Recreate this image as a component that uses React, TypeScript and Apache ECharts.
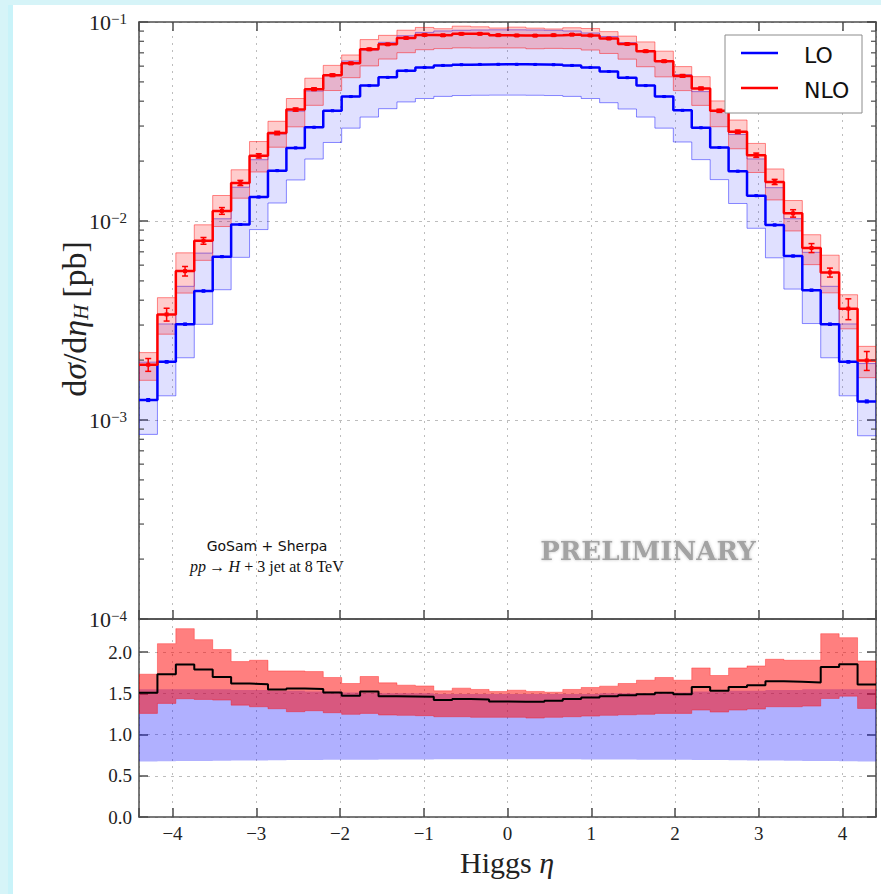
import React, { useEffect, useRef } from 'react';
import * as echarts from 'echarts';

// ---------- data ----------
const binEdges = [-4.4, -4.18, -3.96, -3.74, -3.52, -3.3, -3.08, -2.86, -2.64, -2.42, -2.2, -1.98, -1.76, -1.54, -1.32, -1.1, -0.88, -0.66, -0.44, -0.22, 0, 0.22, 0.44, 0.66, 0.88, 1.1, 1.32, 1.54, 1.76, 1.98, 2.2, 2.42, 2.64, 2.86, 3.08, 3.3, 3.52, 3.74, 3.96, 4.18, 4.4];

// LO central cross section per bin [pb]
const loCentral = [1.26e-3, 1.96e-3, 3.03e-3, 4.45e-3, 6.62e-3, 9.6e-3, 1.32e-2, 1.79e-2, 2.33e-2, 2.96e-2, 3.58e-2, 4.22e-2, 4.79e-2, 5.27e-2, 5.69e-2, 5.91e-2, 6.05e-2, 6.1e-2, 6.12e-2, 6.13e-2, 6.13e-2, 6.12e-2, 6.1e-2, 6.05e-2, 5.91e-2, 5.64e-2, 5.25e-2, 4.79e-2, 4.22e-2, 3.6e-2, 2.94e-2, 2.34e-2, 1.78e-2, 1.34e-2, 9.55e-3, 6.67e-3, 4.49e-3, 3.03e-3, 1.96e-3, 1.24e-3];
// statistical errors in percent
const loErrPct = [1.5, 1.2, 1, 1, 0.8, 0.8, 0.6, 0.6, 0.5, 0.5, 0.5, 0.5, 0.4, 0.4, 0.4, 0.4, 0.4, 0.4, 0.4, 0.4, 0.4, 0.4, 0.4, 0.4, 0.4, 0.4, 0.4, 0.4, 0.5, 0.5, 0.5, 0.5, 0.6, 0.6, 0.8, 0.8, 1, 1, 1.2, 1.5];
const nloErrPct = [7.4, 7.4, 5.5, 3.9, 3.9, 3, 2.5, 2, 1.8, 1.5, 1.5, 1.2, 1.2, 1, 1, 1, 1, 1, 1, 1, 1, 1, 1, 1, 1, 1, 1, 1.2, 1.2, 1.5, 1.5, 1.8, 2, 2.5, 3, 4.3, 5.2, 5.2, 12, 10.9];

// ratio panel (relative to LO central)
const ratioNLO = [1.505, 1.731, 1.848, 1.787, 1.698, 1.618, 1.61, 1.546, 1.558, 1.553, 1.51, 1.469, 1.522, 1.465, 1.461, 1.457, 1.417, 1.429, 1.425, 1.401, 1.396, 1.396, 1.408, 1.429, 1.449, 1.465, 1.477, 1.489, 1.505, 1.489, 1.577, 1.529, 1.577, 1.598, 1.646, 1.638, 1.63, 1.819, 1.851, 1.606];
const ratioNLOUp = [1.731, 2.101, 2.283, 2.15, 2.029, 1.884, 1.9, 1.771, 1.771, 1.763, 1.691, 1.618, 1.703, 1.626, 1.598, 1.589, 1.529, 1.562, 1.546, 1.522, 1.537, 1.522, 1.513, 1.546, 1.57, 1.586, 1.618, 1.658, 1.691, 1.658, 1.807, 1.715, 1.807, 1.831, 1.912, 1.9, 1.9, 2.222, 2.174, 1.891];
const ratioNLODown = [1.256, 1.377, 1.433, 1.425, 1.417, 1.356, 1.336, 1.312, 1.276, 1.288, 1.264, 1.244, 1.256, 1.236, 1.232, 1.228, 1.215, 1.215, 1.208, 1.208, 1.208, 1.199, 1.208, 1.215, 1.223, 1.232, 1.239, 1.244, 1.256, 1.256, 1.296, 1.272, 1.296, 1.308, 1.336, 1.336, 1.344, 1.437, 1.465, 1.316];
const ratioLOUp = [1.55, 1.55, 1.55, 1.55, 1.55, 1.54, 1.54, 1.53, 1.53, 1.52, 1.52, 1.51, 1.51, 1.5, 1.5, 1.5, 1.49, 1.49, 1.49, 1.49, 1.49, 1.49, 1.49, 1.49, 1.49, 1.5, 1.5, 1.5, 1.51, 1.51, 1.52, 1.52, 1.53, 1.53, 1.54, 1.54, 1.55, 1.55, 1.55, 1.55];
const ratioLODown = [0.672, 0.675, 0.678, 0.68, 0.682, 0.684, 0.686, 0.688, 0.69, 0.692, 0.693, 0.694, 0.695, 0.696, 0.697, 0.698, 0.699, 0.7, 0.7, 0.7, 0.7, 0.7, 0.7, 0.699, 0.698, 0.697, 0.696, 0.695, 0.694, 0.693, 0.692, 0.69, 0.688, 0.686, 0.684, 0.682, 0.68, 0.678, 0.675, 0.672];

const minorTickValues = [2e-4, 3e-4, 4e-4, 5e-4, 6e-4, 7e-4, 8e-4, 9e-4, 2e-3, 3e-3, 4e-3, 5e-3, 6e-3, 7e-3, 8e-3, 9e-3, 2e-2, 3e-2, 4e-2, 5e-2, 6e-2, 7e-2, 8e-2, 9e-2];

const SERIF = "'Liberation Serif', 'DejaVu Serif', serif";
const SANS = "'DejaVu Sans', sans-serif";
const FRAME = '#4d4d4d';

function stepData(vals: number[]) {
  const d: number[][] = vals.map((v, i) => [binEdges[i], v]);
  d.push([binEdges[binEdges.length - 1], vals[vals.length - 1]]);
  return d;
}

function bandSeries(lower: number[], upper: number[], xi: number, yi: number, fill: string, stroke: string, anchorY: number) {
  return {
    type: 'custom',
    xAxisIndex: xi,
    yAxisIndex: yi,
    silent: true,
    clip: true,
    data: [[0, anchorY]],
    renderItem: (_p: any, api: any) => {
      const pts: number[][] = [];
      for (let i = 0; i < upper.length; i++) {
        pts.push(api.coord([binEdges[i], upper[i]]));
        pts.push(api.coord([binEdges[i + 1], upper[i]]));
      }
      for (let i = lower.length - 1; i >= 0; i--) {
        pts.push(api.coord([binEdges[i + 1], lower[i]]));
        pts.push(api.coord([binEdges[i], lower[i]]));
      }
      return { type: 'polygon', shape: { points: pts }, style: { fill, stroke, lineWidth: 1 } };
    },
  };
}

function errSeries(vals: number[], errPct: number[], color: string, cap: number, mark: number) {
  const data = vals.map((v, i) => [
    (binEdges[i] + binEdges[i + 1]) / 2,
    v,
    v * (1 - errPct[i] / 100),
    v * (1 + errPct[i] / 100),
  ]);
  return {
    type: 'custom',
    xAxisIndex: 0,
    yAxisIndex: 0,
    silent: true,
    z: 5,
    encode: { x: 0, y: 1 },
    data,
    renderItem: (_p: any, api: any) => {
      const x = api.value(0);
      const c = api.coord([x, api.value(1)]);
      const lo = api.coord([x, api.value(2)]);
      const hi = api.coord([x, api.value(3)]);
      return {
        type: 'group',
        children: [
          { type: 'line', shape: { x1: c[0], y1: lo[1], x2: c[0], y2: hi[1] }, style: { stroke: color, lineWidth: 1.5 } },
          { type: 'line', shape: { x1: c[0] - cap, y1: lo[1], x2: c[0] + cap, y2: lo[1] }, style: { stroke: color, lineWidth: 1.5 } },
          { type: 'line', shape: { x1: c[0] - cap, y1: hi[1], x2: c[0] + cap, y2: hi[1] }, style: { stroke: color, lineWidth: 1.5 } },
          { type: 'rect', shape: { x: c[0] - mark / 2, y: c[1] - mark / 2, width: mark, height: mark }, style: { fill: color } },
        ],
      };
    },
  };
}

const fmtInt = (v: number) => {
  if (Math.abs(v - Math.round(v)) > 1e-6) return '';
  const r = Math.round(v);
  return r < 0 ? '\u2212' + Math.abs(r) : String(r);
};

export default function App() {
  const ref = useRef<HTMLDivElement>(null);
  useEffect(() => {
    if (!ref.current) return;
    const chart = echarts.init(ref.current, null, { renderer: 'svg' });

    const nloCentral = loCentral.map((v, i) => v * ratioNLO[i]);
    const nloUp = loCentral.map((v, i) => v * ratioNLOUp[i]);
    const nloDown = loCentral.map((v, i) => v * ratioNLODown[i]);
    const loUp = loCentral.map((v, i) => v * ratioLOUp[i]);
    const loDown = loCentral.map((v, i) => v * ratioLODown[i]);

    const axisLine = { show: true, onZero: false, lineStyle: { color: FRAME, width: 1.5 } };
    const tick = { show: true, inside: true, length: 9, lineStyle: { color: FRAME, width: 1.5 } };
    const dotted = { show: true, lineStyle: { color: '#bdbdbd', width: 1, type: [2, 5] } };
    const dashed = { show: true, lineStyle: { color: '#bdbdbd', width: 1, type: [3, 5] } };

    const xBase = { type: 'value', min: -4.4, max: 4.4, splitNumber: 8, minInterval: 1, maxInterval: 1 };

    const option: any = {
      animation: false,
      backgroundColor: '#ffffff',
      grid: [
        { left: 139, top: 22, width: 737, height: 597 },
        { left: 139, top: 619, width: 737, height: 198 },
      ],
      xAxis: [
        { ...xBase, gridIndex: 0, position: 'bottom', axisLine, axisTick: tick, axisLabel: { show: false }, splitLine: dotted },
        { ...xBase, gridIndex: 0, position: 'top', axisLine, axisTick: tick, axisLabel: { show: false }, splitLine: { show: false } },
        {
          ...xBase, gridIndex: 1, position: 'bottom', axisLine, axisTick: tick, splitLine: dotted,
          axisLabel: { show: true, formatter: fmtInt, margin: 7, fontFamily: SERIF, fontSize: 19, color: '#222' },
        },
        { ...xBase, gridIndex: 1, position: 'top', axisLine, axisTick: { show: false }, axisLabel: { show: false }, splitLine: { show: false } },
      ],
      yAxis: [
        {
          type: 'log', logBase: 10, min: 1e-4, max: 1e-1, gridIndex: 0, position: 'left',
          axisLine, axisTick: tick, splitLine: dashed,
          axisLabel: {
            show: true, margin: 12,
            formatter: (v: number) => {
              const e = Math.round(Math.log10(v));
              return '{b|10}{s|' + (e < 0 ? '\u2212' + Math.abs(e) : String(e)) + '}';
            },
            rich: {
              b: { fontFamily: SERIF, fontSize: 22, lineHeight: 22, color: '#222', padding: [5, 0, 5, 0], verticalAlign: 'middle' },
              s: { fontFamily: SERIF, fontSize: 15, lineHeight: 15, color: '#222', verticalAlign: 'top' },
            },
          },
        },
        {
          type: 'log', logBase: 10, min: 1e-4, max: 1e-1, gridIndex: 0, position: 'right',
          axisLine, axisTick: tick, axisLabel: { show: false }, splitLine: { show: false },
        },
        {
          type: 'value', min: 0, max: 2.4, interval: 0.5, gridIndex: 1, position: 'left',
          axisLine, axisTick: tick, splitLine: dashed,
          axisLabel: {
            show: true, margin: 7, fontFamily: SERIF, fontSize: 19, color: '#222',
            formatter: (v: number) => (v > 2.2 ? '' : v.toFixed(1)),
          },
        },
        {
          type: 'value', min: 0, max: 2.4, interval: 0.5, gridIndex: 1, position: 'right',
          axisLine, axisTick: tick, axisLabel: { show: false }, splitLine: { show: false },
        },
      ],
      series: [
        bandSeries(loDown, loUp, 0, 0, 'rgba(0,0,255,0.12)', 'rgba(0,0,255,0.45)', 0.01),
        bandSeries(nloDown, nloUp, 0, 0, 'rgba(255,0,0,0.2)', 'rgba(255,0,0,0.45)', 0.01),
        {
          name: 'LO', type: 'line', step: 'end', xAxisIndex: 0, yAxisIndex: 0, showSymbol: false, silent: true,
          data: stepData(loCentral), lineStyle: { color: '#0000ff', width: 2.5 }, itemStyle: { color: '#0000ff' }, z: 4,
        },
        {
          name: 'NLO', type: 'line', step: 'end', xAxisIndex: 0, yAxisIndex: 0, showSymbol: false, silent: true,
          data: stepData(nloCentral), lineStyle: { color: '#ff0000', width: 2.5 }, itemStyle: { color: '#ff0000' }, z: 4,
        },
        errSeries(loCentral, loErrPct, '#0000ff', 2, 3),
        errSeries(nloCentral, nloErrPct, '#ff0000', 3, 4),
        {
          type: 'custom', xAxisIndex: 0, yAxisIndex: 0, silent: true, z: 6,
          data: minorTickValues.map((v) => [-4.4, v]),
          renderItem: (_p: any, api: any) => {
            const v = api.value(1);
            const l = api.coord([-4.4, v]);
            const r = api.coord([4.4, v]);
            return {
              type: 'group',
              children: [
                { type: 'line', shape: { x1: l[0], y1: l[1], x2: l[0] + 5, y2: l[1] }, style: { stroke: FRAME, lineWidth: 1.2 } },
                { type: 'line', shape: { x1: r[0] - 5, y1: r[1], x2: r[0], y2: r[1] }, style: { stroke: FRAME, lineWidth: 1.2 } },
              ],
            };
          },
        },
        bandSeries(ratioLODown, ratioLOUp, 2, 2, 'rgba(0,0,255,0.31)', 'rgba(0,0,255,0.0)', 1),
        bandSeries(ratioNLODown, ratioNLOUp, 2, 2, 'rgba(255,0,0,0.5)', 'rgba(255,0,0,0.35)', 1),
        {
          name: 'NLO/LO', type: 'line', step: 'end', xAxisIndex: 2, yAxisIndex: 2, showSymbol: false, silent: true,
          data: stepData(ratioNLO), lineStyle: { color: '#000000', width: 2 }, z: 4,
        },
      ],
      graphic: [
        { type: 'rect', z: -10, silent: true, shape: { x: 0, y: 0, width: 881, height: 5 }, style: { fill: '#d6f4f8' } },
        { type: 'rect', z: -10, silent: true, shape: { x: 0, y: 0, width: 13, height: 894 }, style: { fill: '#d6f4f8' } },
        { type: 'rect', z: -9, silent: true, shape: { x: 8, y: 5, width: 5, height: 889 }, style: { fill: '#c9f3f9' } },
        // legend
        { type: 'rect', z: 100, silent: true, shape: { x: 725, y: 35, width: 137, height: 78 }, style: { fill: '#ffffff', stroke: '#8c8c8c', lineWidth: 1 } },
        { type: 'line', z: 101, silent: true, shape: { x1: 741, y1: 53, x2: 778, y2: 53 }, style: { stroke: '#0000ff', lineWidth: 2.5 } },
        { type: 'line', z: 101, silent: true, shape: { x1: 741, y1: 88, x2: 778, y2: 88 }, style: { stroke: '#ff0000', lineWidth: 2.5 } },
        { type: 'text', z: 101, silent: true, x: 804, y: 55, style: { text: 'LO', font: `22px ${SANS}`, fill: '#111', verticalAlign: 'middle', align: 'left' } },
        { type: 'text', z: 101, silent: true, x: 804, y: 90, style: { text: 'NLO', font: `22px ${SANS}`, fill: '#111', verticalAlign: 'middle', align: 'left' } },
        // annotations
        { type: 'text', z: 50, silent: true, x: 267, y: 546, style: { text: 'GoSam + Sherpa', font: `14px ${SANS}`, fill: '#111', align: 'center', verticalAlign: 'middle' } },
        {
          type: 'text', z: 50, silent: true, x: 267, y: 566,
          style: {
            text: '{i|pp}{r|\u2009\u2192\u2009}{i|H}{r| + 3 jet at 8 TeV}', align: 'center', verticalAlign: 'middle',
            rich: {
              i: { fontFamily: SERIF, fontStyle: 'italic', fontSize: 16, fill: '#111' },
              r: { fontFamily: SERIF, fontSize: 16, fill: '#111' },
            },
          },
        },
        {
          type: 'text', z: 50, silent: true, x: 648, y: 551,
          style: {
            text: 'PRELIMINARY', font: `bold 26px 'DejaVu Serif', serif`, fill: '#a3a3a3', align: 'center', verticalAlign: 'middle',
            textShadowBlur: 3, textShadowColor: 'rgba(0,0,0,0.25)',
          },
        },
        // axis titles
        {
          type: 'text', z: 50, silent: true, x: 507, y: 862,
          style: {
            text: '{r|Higgs }{i|\u03B7}', align: 'center', verticalAlign: 'middle',
            rich: {
              r: { fontFamily: SERIF, fontSize: 30, lineHeight: 30, fill: '#222' },
              i: { fontFamily: SERIF, fontStyle: 'italic', fontSize: 30, lineHeight: 30, fill: '#222' },
            },
          },
        },
        {
          type: 'text', z: 50, silent: true, x: 74, y: 319, rotation: Math.PI / 2,
          style: {
            text: '{r|d}{i|\u03C3}{r|/d}{i|\u03B7}{sub|H}{r|\u2009[pb]}', align: 'center', verticalAlign: 'middle',
            rich: {
              r: { fontFamily: SERIF, fontSize: 34, lineHeight: 34, padding: [5, 0, 5, 0], verticalAlign: 'middle', fill: '#222' },
              i: { fontFamily: SERIF, fontStyle: 'italic', fontSize: 34, lineHeight: 34, padding: [5, 0, 5, 0], verticalAlign: 'middle', fill: '#222' },
              sub: { fontFamily: SERIF, fontStyle: 'italic', fontSize: 21, lineHeight: 21, verticalAlign: 'bottom', fill: '#222' },
            },
          },
        },
      ],
    };

    chart.setOption(option);
    return () => chart.dispose();
  }, []);

  return <div ref={ref} style={{ position: 'absolute', left: 0, top: 0, width: 881, height: 894 }} />;
}
